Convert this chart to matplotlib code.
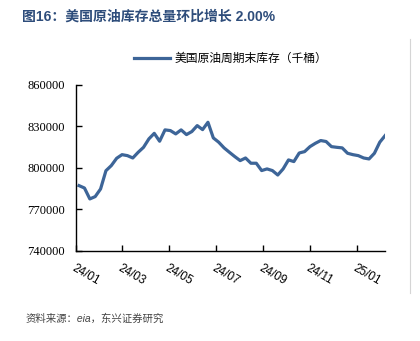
import numpy as np
import pandas as pd
from matplotlib import pyplot as plt
from matplotlib.lines import Line2D
import matplotlib.dates as mdates

plt.rcParams['font.family'] = ['Liberation Sans', 'Noto Sans CJK SC', 'DejaVu Sans']

# weekly US crude oil stocks incl. SPR (thousand barrels)
start_date = '2024-01-05'
stocks = [787200, 785500, 777600, 779300, 784800, 798000, 801700, 807000, 809600, 808900,
          807200, 811300, 814900, 821000, 825000, 819300, 827500, 827000, 824600, 827500,
          824100, 826300, 830600, 827700, 833000, 821700, 818600, 814500, 811300, 808200,
          805300, 807200, 803400, 803400, 798100, 799300, 798100, 794900, 799300, 805800,
          804600, 810800, 811800, 815400, 817800, 819800, 819100, 815400, 814900, 814500,
          810600, 809600, 808900, 807200, 806500, 810600, 818600, 823400]
dates = pd.date_range(start_date, periods=len(stocks), freq='7D')
y_ticks = [740000, 770000, 800000, 830000, 860000]
title = '图16：美国原油库存总量环比增长 2.00%'
series_name = '美国原油周期末库存（千桶）'
source = '资料来源：eia，东兴证券研究'

line_color = '#3d6598'

fig = plt.figure(figsize=(4.2, 3.41), dpi=100)
ax = fig.add_axes([0.181, 0.264, 0.736, 0.487])
ax.plot(dates, stocks, color=line_color, lw=2.3, label=series_name)

ax.set_ylim(740000, 860000)
ax.set_yticks(y_ticks)
ax.set_xlim(pd.Timestamp('2024-01-01'), dates[-1])
ax.xaxis.set_major_locator(mdates.MonthLocator(bymonth=[1, 3, 5, 7, 9, 11]))
ax.xaxis.set_major_formatter(mdates.DateFormatter('%y/%m'))

for s in ['top', 'right']:
    ax.spines[s].set_visible(False)
for s in ['left', 'bottom']:
    ax.spines[s].set_linewidth(1.0)
ax.tick_params(direction='in', length=4, width=1.0)
ax.tick_params(axis='y', pad=8)
for lab in ax.get_yticklabels():
    lab.set_fontfamily(['Liberation Serif'])
    lab.set_fontsize(9)
for lab in ax.get_xticklabels():
    lab.set_rotation(-30)
    lab.set_ha('left')
    lab.set_rotation_mode('anchor')
    lab.set_fontsize(8.5)
ax.tick_params(axis='x', pad=8)

leg = ax.legend(loc='lower center', bbox_to_anchor=(0.5, 1.0), frameon=False,
                fontsize=8.5, handlelength=3.0, handletextpad=0.4, borderaxespad=1.3)

fig.text(0.052, 0.95, title, fontsize=10, fontweight='bold', color='#2e4d7b', va='center')
fig.text(0.06, 0.067, source, fontsize=7.5, style='italic', color='#444444', va='center')
fig.add_artist(Line2D([0.976, 0.976], [0.14, 0.886], color='#d5d5d5', lw=0.8))

fig.savefig('out.png', dpi=100)
